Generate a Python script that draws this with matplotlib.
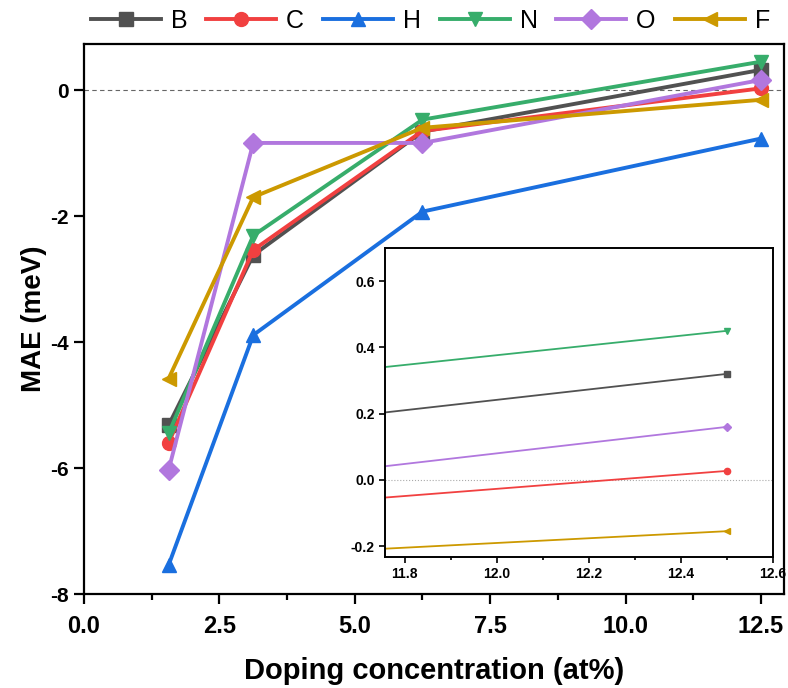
import matplotlib
matplotlib.use("Agg")
import matplotlib.pyplot as plt
from matplotlib.ticker import MultipleLocator

# doping concentration (at%)
conc = [1.5625, 3.125, 6.25, 12.5]

labels = ["B", "C", "H", "N", "O", "F"]
mae_B = [-5.32, -2.62, -0.66, 0.32]
mae_C = [-5.60, -2.54, -0.65, 0.027]
mae_H = [-7.54, -3.89, -1.93, -0.77]
mae_N = [-5.45, -2.31, -0.47, 0.45]
mae_O = [-6.03, -0.84, -0.84, 0.16]
mae_F = [-4.58, -1.70, -0.60, -0.155]
series = [mae_B, mae_C, mae_H, mae_N, mae_O, mae_F]

colors = ["#515151", "#F14040", "#1A6FDF", "#37AD6B", "#B177DE", "#CC9900"]
markers = ["s", "o", "^", "v", "D", "<"]

plt.rcParams["font.family"] = ["Liberation Sans", "DejaVu Sans"]
plt.rcParams["font.weight"] = "bold"
plt.rcParams["axes.unicode_minus"] = False

fig = plt.figure(figsize=(7.88, 6.88), dpi=100)
ax = fig.add_axes([0.1066, 0.1366, 0.888, 0.7994])

for y, lab, c, m in zip(series, labels, colors, markers):
    ax.plot(conc, y, color=c, marker=m, lw=2.8, ms=10, label=lab)

ax.axhline(0, color="#666666", lw=0.8, ls=(0, (4, 3)), zorder=0)
ax.set_xlim(0, 12.92)
ax.set_ylim(-8, 0.73)
ax.xaxis.set_minor_locator(MultipleLocator(1.25))
ax.yaxis.set_major_locator(MultipleLocator(2))
ax.set_xticks([0, 2.5, 5, 7.5, 10, 12.5], ["0.0", "2.5", "5.0", "7.5", "10.0", "12.5"])
ax.tick_params(axis="x", which="major", direction="out", length=7, width=1.6, labelsize=17, pad=8)
ax.tick_params(axis="x", which="minor", direction="out", length=4, width=1.6)
ax.tick_params(axis="y", which="major", direction="out", length=7, width=1.6, labelsize=15, pad=4)
for s in ax.spines.values():
    s.set_linewidth(1.6)
ax.set_xlabel("Doping concentration (at%)", fontsize=21, fontweight="bold", labelpad=14)
ax.set_ylabel("MAE (meV)", fontsize=20, fontweight="bold", labelpad=2)

fig.legend(loc="upper center", bbox_to_anchor=(0.546, 1.02), ncol=6, frameon=False,
           prop={"size": 18, "weight": "normal"}, handlelength=2.8,
           columnspacing=0.75, handletextpad=0.4)

# inset zoom around 12.5 at%
axin = fig.add_axes([0.4886, 0.1904, 0.4924, 0.4491])
for y, c, m in zip(series, colors, markers):
    axin.plot(conc, y, color=c, marker=m, lw=1.3, ms=4.5)
axin.axhline(0, color="#aaaaaa", lw=0.8, ls=":", zorder=0)
axin.set_xlim(11.757, 12.6)
axin.set_ylim(-0.233, 0.70)
axin.xaxis.set_minor_locator(MultipleLocator(0.1))
axin.set_xticks([11.8, 12.0, 12.2, 12.4, 12.6], ["11.8", "12.0", "12.2", "12.4", "12.6"])
axin.set_yticks([-0.2, 0.0, 0.2, 0.4, 0.6], ["-0.2", "0.0", "0.2", "0.4", "0.6"])
axin.tick_params(axis="both", which="major", direction="out", length=4, width=1.2, labelsize=10)
axin.tick_params(axis="x", which="minor", direction="out", length=2.5, width=1.2)
for s in axin.spines.values():
    s.set_linewidth(1.4)

fig.savefig("out.png", dpi=100)
